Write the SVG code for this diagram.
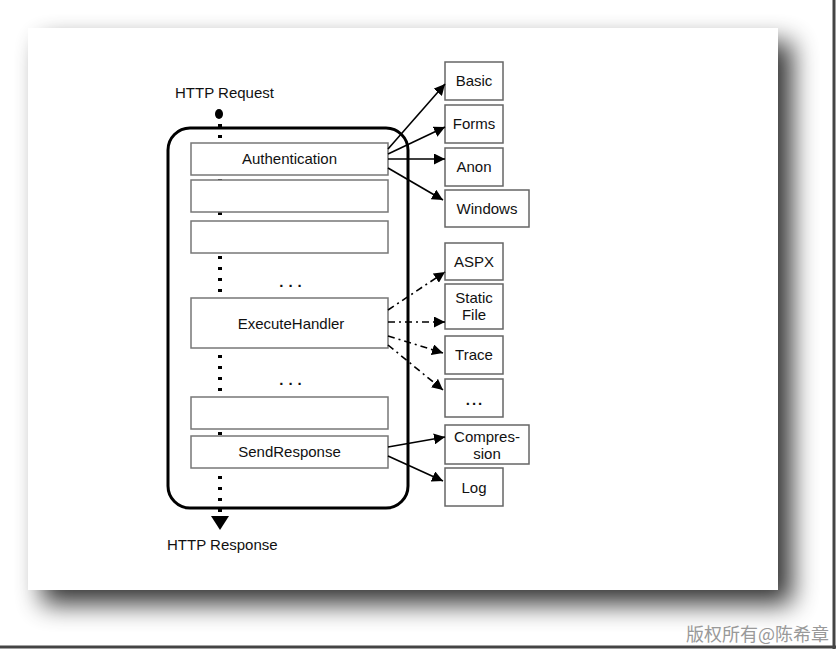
<svg xmlns="http://www.w3.org/2000/svg" width="836" height="649" viewBox="0 0 836 649">
<defs>
<filter id="sh" x="-10%" y="-10%" width="130%" height="130%">
<feGaussianBlur in="SourceAlpha" stdDeviation="13"/>
<feOffset dx="14" dy="14" result="b"/>
<feComponentTransfer><feFuncA type="linear" slope="0.8"/></feComponentTransfer>
<feMerge><feMergeNode/><feMergeNode in="SourceGraphic"/></feMerge>
</filter>
<marker id="ah" viewBox="0 0 10 10" refX="10" refY="5" markerWidth="11" markerHeight="11" markerUnits="userSpaceOnUse" orient="auto">
<path d="M0,0 L10,5 L0,10 z" fill="#000"/>
</marker>
</defs>
<style>
text{font-family:"Liberation Sans",Arial,sans-serif;font-size:15px;fill:#111;}
.stage{fill:#fff;stroke:#777;stroke-width:1.5;}
.box{fill:#fff;stroke:#666;stroke-width:1.5;}
.c{stroke:#000;stroke-width:1.6;fill:none;marker-end:url(#ah);}
.dd{stroke:#000;stroke-width:1.6;fill:none;stroke-dasharray:7 4 2 4;marker-end:url(#ah);}
.mid{text-anchor:middle;}
.ell{font-weight:bold;letter-spacing:5px;}
</style>
<rect width="836" height="649" fill="#fff"/>
<rect x="28" y="28" width="750" height="562" fill="#fff" filter="url(#sh)"/>
<line x1="834" y1="0" x2="834" y2="649" stroke="#444" stroke-width="3"/>
<line x1="0" y1="647" x2="836" y2="647" stroke="#444" stroke-width="3"/>

<g id="pipeline">
<rect x="168" y="128" width="240" height="380" rx="22" fill="none" stroke="#000" stroke-width="3"/>
</g>
<g id="flow">
<ellipse cx="219" cy="114" rx="4" ry="5" fill="#000"/>
<line x1="220" y1="124" x2="220" y2="512" stroke="#000" stroke-width="4" stroke-dasharray="3 8" stroke-linecap="butt"/>
<path d="M211,516 L229,516 L220,530 z" fill="#000"/>
<text x="175" y="98">HTTP Request</text>
<text x="167" y="550">HTTP Response</text>
</g>
<g id="authentication"><rect class="stage" x="191" y="143" width="197" height="32"/><text class="mid" x="289.5" y="164">Authentication</text></g>
<g id="stage2"><rect class="stage" x="191" y="180" width="197" height="32"/></g>
<g id="stage3"><rect class="stage" x="191" y="221" width="197" height="32"/></g>
<g id="ellipsis1"><text class="mid ell" x="293" y="287">...</text></g>
<g id="executehandler"><rect class="stage" x="191" y="298" width="197" height="50"/><text class="mid" x="291" y="329">ExecuteHandler</text></g>
<g id="ellipsis2"><text class="mid ell" x="293" y="385">...</text></g>
<g id="stage7"><rect class="stage" x="191" y="397" width="197" height="32"/></g>
<g id="sendresponse"><rect class="stage" x="191" y="436" width="197" height="32"/><text class="mid" x="289.5" y="457">SendResponse</text></g>

<g id="basic"><rect class="box" x="445" y="62" width="58" height="38"/><text class="mid" x="474" y="86">Basic</text></g>
<g id="forms"><rect class="box" x="445" y="105" width="58" height="38"/><text class="mid" x="474" y="129">Forms</text></g>
<g id="anon"><rect class="box" x="445" y="148" width="58" height="38"/><text class="mid" x="474" y="172">Anon</text></g>
<g id="windows"><rect class="box" x="445" y="190" width="84" height="37"/><text class="mid" x="487" y="214">Windows</text></g>
<g id="aspx"><rect class="box" x="445" y="243" width="58" height="37"/><text class="mid" x="474" y="267">ASPX</text></g>
<g id="staticfile"><rect class="box" x="445" y="284" width="58" height="45"/><text class="mid" x="474" y="303">Static</text><text class="mid" x="474" y="320">File</text></g>
<g id="trace"><rect class="box" x="445" y="336" width="58" height="38"/><text class="mid" x="474" y="360">Trace</text></g>
<g id="more"><rect class="box" x="445" y="379" width="58" height="38"/><text class="mid" x="475" y="405" style="font-weight:bold;letter-spacing:2px">...</text></g>
<g id="compression"><rect class="box" x="445" y="425" width="84" height="39"/><text class="mid" x="487" y="442">Compres-</text><text class="mid" x="487" y="459">sion</text></g>
<g id="log"><rect class="box" x="445" y="468" width="58" height="38"/><text class="mid" x="474" y="493">Log</text></g>

<g id="connectors">
<line class="c" x1="388" y1="149" x2="445" y2="84"/>
<line class="c" x1="388" y1="154" x2="445" y2="127"/>
<line class="c" x1="388" y1="159" x2="445" y2="159"/>
<line class="c" x1="388" y1="168" x2="443" y2="200"/>
<line class="dd" x1="388" y1="310" x2="445" y2="272"/>
<line class="dd" x1="388" y1="322" x2="445" y2="322"/>
<line class="dd" x1="388" y1="336" x2="443" y2="353"/>
<line class="dd" x1="388" y1="345" x2="443" y2="390"/>
<line class="c" x1="388" y1="447" x2="445" y2="437"/>
<line class="c" x1="388" y1="456" x2="443" y2="481"/>
</g>

<text x="686" y="641" style="font-family:'Noto Sans CJK SC',sans-serif;font-size:18px;fill:#999">版权所有@陈希章</text>
</svg>
